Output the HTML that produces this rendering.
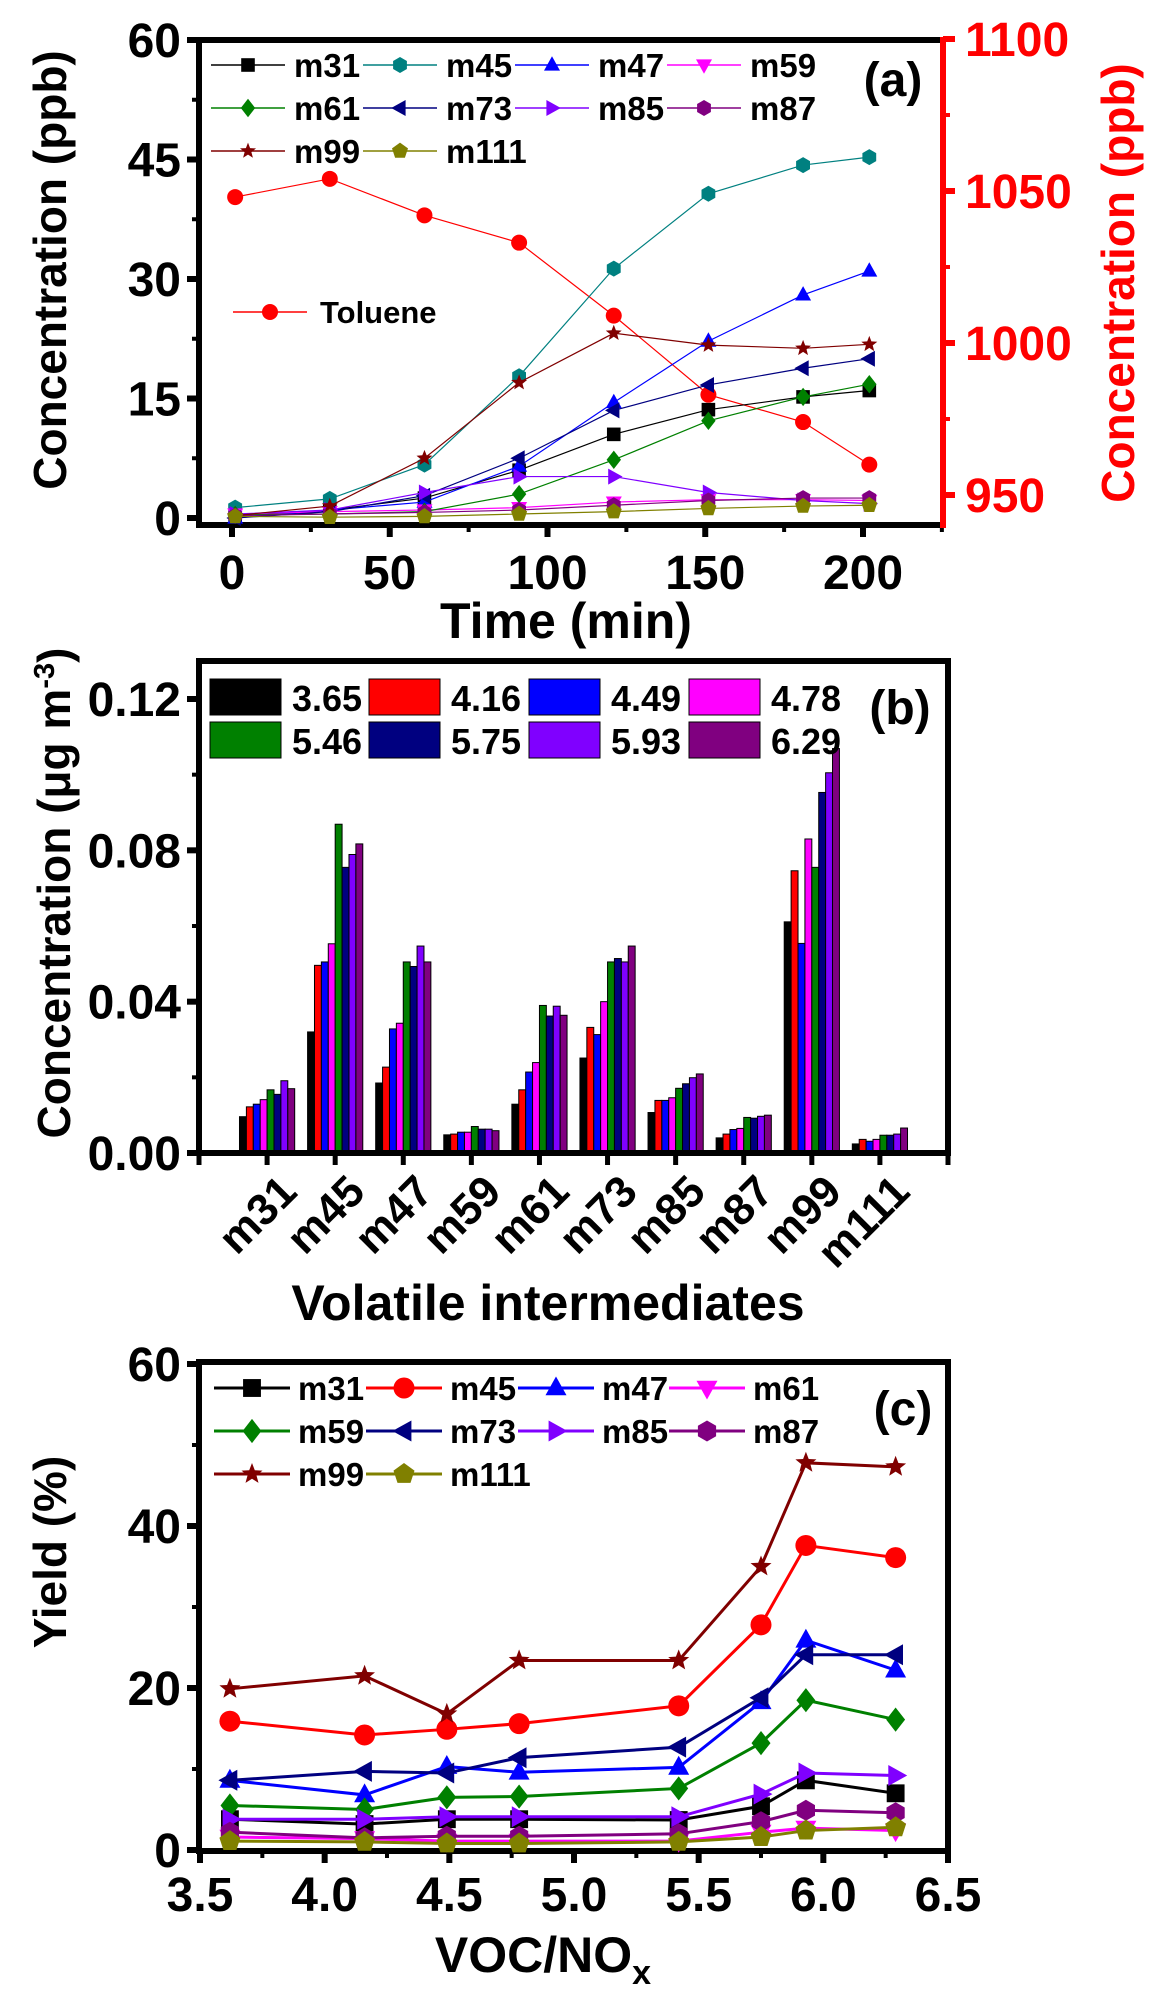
<!DOCTYPE html>
<html><head><meta charset="utf-8">
<style>
html,body{margin:0;padding:0;background:#fff;}
svg{display:block;}
text{font-family:"Liberation Sans",Arial,sans-serif;font-weight:bold;}
</style></head>
<body>
<svg id="fig" width="1155" height="2003" viewBox="0 0 1155 2003" xmlns="http://www.w3.org/2000/svg">
<rect width="1155" height="2003" fill="#fff"/>
</svg>
<script>
// ---------- Panel (a) data ----------
const timeA = [1, 31, 61, 91, 121, 151, 181, 202];
const m31A = [0.2, 1, 2.5, 6, 10.5, 13.6, 15.2, 16];
const m45A = [1.3, 2.4, 6.7, 17.8, 31.3, 40.7, 44.3, 45.3];
const m47A = [0, 1, 2, 6.5, 14.5, 22.2, 28, 31];
const m59A = [0.5, 0.8, 1, 1.3, 2, 2.3, 2.3, 2.2];
const m61A = [0.4, 0.5, 0.8, 3, 7.3, 12.2, 15.2, 16.8];
const m73A = [0, 0.8, 2.8, 7.5, 13.5, 16.7, 18.8, 20];
const m85A = [0.5, 1, 3.2, 5.2, 5.2, 3.2, 2.2, 1.8];
const m87A = [0.3, 0.5, 0.7, 1, 1.6, 2.2, 2.5, 2.5];
const m99A = [0.3, 1.5, 7.5, 17, 23.2, 21.7, 21.3, 21.8];
const m111A = [0.2, 0.1, 0.2, 0.5, 0.8, 1.2, 1.5, 1.6];
const tolueneA = [1048, 1054, 1042, 1033, 1009, 983, 974, 960];
const ticksAy = [0, 15, 30, 45, 60];
const ticksAx = [0, 50, 100, 150, 200];
const ticksAr = [950, 1000, 1050, 1100];

// ---------- Panel (b) data ----------
const catsB = ["m31","m45","m47","m59","m61","m73","m85","m87","m99","m111"];
const ratiosB = ["3.65","4.16","4.49","4.78","5.46","5.75","5.93","6.29"];
const b_m31 = [0.0096,0.0122,0.0129,0.0141,0.0167,0.0155,0.0191,0.0170];
const b_m45 = [0.032,0.0496,0.0505,0.0553,0.0869,0.0755,0.0789,0.0817];
const b_m47 = [0.0185,0.0227,0.0328,0.0343,0.0505,0.0493,0.0547,0.0505];
const b_m59 = [0.0048,0.005,0.0055,0.0055,0.007,0.0063,0.0063,0.0059];
const b_m61 = [0.0129,0.0167,0.0214,0.0239,0.039,0.0362,0.0388,0.0364];
const b_m73 = [0.0251,0.0332,0.0313,0.04,0.0505,0.0514,0.0505,0.0547];
const b_m85 = [0.0107,0.0139,0.0139,0.0146,0.0171,0.0183,0.0199,0.0209];
const b_m87 = [0.004,0.005,0.0062,0.0065,0.0094,0.0092,0.0097,0.01];
const b_m99 = [0.0611,0.0746,0.0554,0.083,0.0755,0.0953,0.1005,0.1069];
const b_m111 = [0.0024,0.0036,0.0031,0.0036,0.0047,0.0047,0.005,0.0066];
const ticksBy = [0, 0.04, 0.08, 0.12];
const tickLabelsBy = ["0.00","0.04","0.08","0.12"];

// ---------- Panel (c) data ----------
const ratioC = [3.62, 4.16, 4.49, 4.78, 5.42, 5.75, 5.93, 6.29];
const c_m31 = [3.8,3.2,3.8,3.8,3.7,5.4,8.6,7.0];
const c_m45 = [15.9,14.2,14.9,15.6,17.8,27.8,37.6,36.1];
const c_m47 = [8.6,6.8,10.3,9.6,10.2,18.3,25.9,22.2];
const c_m61 = [1.6,1.4,1.1,1.1,1.1,2.2,2.7,2.4];
const c_m59 = [5.5,5.0,6.5,6.6,7.6,13.2,18.5,16.1];
const c_m73 = [8.6,9.7,9.5,11.4,12.7,18.8,24.1,24.1];
const c_m85 = [3.8,3.8,4.1,4.1,4.1,6.9,9.5,9.2];
const c_m87 = [2.2,1.5,1.7,1.7,2.0,3.5,4.9,4.6];
const c_m99 = [19.9,21.5,16.8,23.4,23.4,35.0,47.8,47.3];
const c_m111 = [1.1,1.0,0.8,0.8,1.0,1.6,2.4,2.8];
const ticksCy = [0, 20, 40, 60];
const ticksCx = [3.5, 4.0, 4.5, 5.0, 5.5, 6.0, 6.5];

const NS = "http://www.w3.org/2000/svg";
const svg = document.getElementById("fig");
const TK = 48;
function mk(tag, attrs, parent) {
  const e = document.createElementNS(NS, tag);
  for (const k in attrs) e.setAttribute(k, attrs[k]);
  (parent || svg).appendChild(e);
  return e;
}
function txt(str, x, y, size, fill, anchor, parent) {
  const t = mk("text", {x: x, y: y, "font-size": size, fill: fill || "#000", "text-anchor": anchor || "middle"}, parent);
  t.textContent = str;
  return t;
}
function marker(shape, cx, cy, s, color, parent) {
  const r = s / 2;
  let e;
  const pts = (arr) => arr.map(p => (cx + p[0]).toFixed(1) + "," + (cy + p[1]).toFixed(1)).join(" ");
  if (shape === "square") e = mk("rect", {x: cx - r * 0.85, y: cy - r * 0.85, width: r * 1.7, height: r * 1.7, fill: color}, parent);
  else if (shape === "circle") e = mk("circle", {cx: cx, cy: cy, r: r, fill: color}, parent);
  else if (shape === "up") e = mk("polygon", {points: pts([[0, -r * 1.1], [r, r * 0.7], [-r, r * 0.7]]), fill: color}, parent);
  else if (shape === "down") e = mk("polygon", {points: pts([[0, r * 1.1], [r, -r * 0.7], [-r, -r * 0.7]]), fill: color}, parent);
  else if (shape === "diamond") e = mk("polygon", {points: pts([[0, -r * 1.15], [r * 0.9, 0], [0, r * 1.15], [-r * 0.9, 0]]), fill: color}, parent);
  else if (shape === "left") e = mk("polygon", {points: pts([[-r * 1.1, 0], [r * 0.7, -r], [r * 0.7, r]]), fill: color}, parent);
  else if (shape === "right") e = mk("polygon", {points: pts([[r * 1.1, 0], [-r * 0.7, -r], [-r * 0.7, r]]), fill: color}, parent);
  else if (shape === "hex") {
    const a = []; for (let i = 0; i < 6; i++) { const t = Math.PI / 6 + i * Math.PI / 3; a.push([r * Math.cos(t), r * Math.sin(t)]); }
    e = mk("polygon", {points: pts(a), fill: color}, parent);
  } else if (shape === "star") {
    const a = []; for (let i = 0; i < 10; i++) { const t = -Math.PI / 2 + i * Math.PI / 5; const rr = i % 2 ? r * 0.45 : r * 1.05; a.push([rr * Math.cos(t), rr * Math.sin(t)]); }
    e = mk("polygon", {points: pts(a), fill: color}, parent);
  } else if (shape === "pent") {
    const a = []; for (let i = 0; i < 5; i++) { const t = -Math.PI / 2 + i * 2 * Math.PI / 5; a.push([r * 1.05 * Math.cos(t), r * 1.05 * Math.sin(t)]); }
    e = mk("polygon", {points: pts(a), fill: color}, parent);
  }
  return e;
}
function frame(L, R, T, B, parent) {
  mk("rect", {x: L, y: T, width: R - L, height: B - T, fill: "none", stroke: "#000", "stroke-width": 6}, parent);
}

// ================= Panel (a) =================
const gA = mk("g", {});


const aL = 199, aR = 943, aT = 40, aB = 525;
const xA = v => 232 + (v - 0) * (863 - 232) / 200;
const yA = v => 518 + (v - 0) * (40 - 518) / 60;
const yAr = v => 495 + (v - 950) * (343 - 495) / 50;
frame(aL, aR, aT, aB, gA);
ticksAy.forEach(v => {
  mk("line", {x1: aL - 12, x2: aL, y1: yA(v), y2: yA(v), stroke: "#000", "stroke-width": 6}, gA);
  const t = txt(String(v), aL - 18, yA(v) + 17, TK, "#000", "end", gA);
  
  
});
for (let v = 7.5; v < 60; v += 15) mk("line", {x1: aL - 7, x2: aL, y1: yA(v), y2: yA(v), stroke: "#000", "stroke-width": 4}, gA);
ticksAx.forEach(v => {
  mk("line", {x1: xA(v), x2: xA(v), y1: aB, y2: aB + 12, stroke: "#000", "stroke-width": 6}, gA);
  const t = txt(String(v), xA(v), 589, TK, "#000", "middle", gA);
  
  
});
for (let v = 25; v < 230; v += 50) if (xA(v) < aR) mk("line", {x1: xA(v), x2: xA(v), y1: aB, y2: aB + 7, stroke: "#000", "stroke-width": 4}, gA);
mk("line", {x1: aR, x2: aR, y1: aT - 3, y2: aB + 3, stroke: "#ff0000", "stroke-width": 6}, gA);
ticksAr.forEach(v => {
  mk("line", {x1: aR, x2: aR + 12, y1: yAr(v), y2: yAr(v), stroke: "#ff0000", "stroke-width": 6}, gA);
  const t = txt(String(v), aR + 22, yAr(v) + 17, TK, "#ff0000", "start", gA);
  
  
});
for (let v = 975; v < 1100; v += 50) mk("line", {x1: aR, x2: aR + 7, y1: yAr(v), y2: yAr(v), stroke: "#ff0000", "stroke-width": 4}, gA);
let t;
t = txt("Concentration (ppb)", 0, 0, 46, "#000", "middle", gA);
t.setAttribute("transform", "translate(66,270) rotate(-90)");


t = txt("Concentration (ppb)", 0, 0, 46, "#ff0000", "middle", gA);
t.setAttribute("transform", "translate(1134,283) rotate(-90)");


t = txt("Time (min)", 566, 638, 50, "#000", "middle", gA);


t = txt("(a)", 893, 96, 48, "#000", "middle", gA);



const seriesA = [
  {n: "m31", d: m31A, c: "#000000", s: "square"},
  {n: "m45", d: m45A, c: "#008080", s: "hex"},
  {n: "m47", d: m47A, c: "#0000ff", s: "up"},
  {n: "m59", d: m59A, c: "#ff00ff", s: "down"},
  {n: "m61", d: m61A, c: "#008000", s: "diamond"},
  {n: "m73", d: m73A, c: "#000080", s: "left"},
  {n: "m85", d: m85A, c: "#8000ff", s: "right"},
  {n: "m87", d: m87A, c: "#800080", s: "hex"},
  {n: "m99", d: m99A, c: "#800000", s: "star"},
  {n: "m111", d: m111A, c: "#808000", s: "pent"}
];
{
  const g = mk("g", {}, gA);
  
  
  mk("polyline", {points: timeA.map((x, i) => xA(x) + "," + yAr(tolueneA[i])).join(" "), fill: "none", stroke: "#ff0000", "stroke-width": 1.2}, g);
  tolueneA.forEach((v, i) => {
    const m = marker("circle", xA(timeA[i]), yAr(v), 16, "#ff0000", g);
    
    
  });
}
seriesA.forEach(s => {
  const g = mk("g", {}, gA);
  
  
  mk("polyline", {points: timeA.map((x, i) => xA(x) + "," + yA(s.d[i])).join(" "), fill: "none", stroke: s.c, "stroke-width": 1.2}, g);
  s.d.forEach((v, i) => {
    const m = marker(s.s, xA(timeA[i]), yA(v), 16, s.c, g);
    
    
  });
});
{
  const g = mk("g", {}, gA);
  
  
  const colM = [248, 400, 552, 704], rowY = [65, 108, 151];
  seriesA.forEach((s, i) => {
    const cx = colM[i % 4], cy = rowY[Math.floor(i / 4)];
    const e = mk("g", {}, g);
    
    
    mk("line", {x1: cx - 37, x2: cx + 37, y1: cy, y2: cy, stroke: s.c, "stroke-width": 1.5}, e);
    marker(s.s, cx, cy, 16, s.c, e);
    txt(s.n, cx + 46, cy + 12, 33, "#000", "start", e);
  });
  const e = mk("g", {}, g);
  
  
  mk("line", {x1: 233, x2: 307, y1: 312, y2: 312, stroke: "#ff0000", "stroke-width": 1.5}, e);
  marker("circle", 270, 312, 16, "#ff0000", e);
  txt("Toluene", 320, 323, 31, "#000", "start", e);
}

// ================= Panel (b) =================
const gB = mk("g", {});


const bL = 199, bR = 948, bT = 661, bB = 1153;
const xB = i => bL + (i + 1) * (bR - bL) / 11;
const yB = v => 1153 + v * (699 - 1153) / 0.12;
const colorsB = ["#000000","#ff0000","#0000ff","#ff00ff","#008000","#000080","#8000ff","#800080"];
const dataB = [b_m31,b_m45,b_m47,b_m59,b_m61,b_m73,b_m85,b_m87,b_m99,b_m111];
const bw = 6.9;
dataB.forEach((arr, ci) => {
  const g = mk("g", {}, gB);
  
  
  arr.forEach((v, k) => {
    const x = xB(ci) - 4 * bw + k * bw;
    const r = mk("rect", {x: x, y: yB(v), width: bw, height: yB(0) - yB(v), fill: colorsB[k], stroke: "#000", "stroke-width": 1}, g);
    
    
  });
});
frame(bL, bR, bT, bB, gB);
ticksBy.forEach((v, i) => {
  mk("line", {x1: bL - 12, x2: bL, y1: yB(v), y2: yB(v), stroke: "#000", "stroke-width": 6}, gB);
  const t = txt(tickLabelsBy[i], bL - 18, yB(v) + 17, TK, "#000", "end", gB);
  
  
});
for (let v = 0.02; v < 0.13; v += 0.04) mk("line", {x1: bL - 7, x2: bL, y1: yB(v), y2: yB(v), stroke: "#000", "stroke-width": 4}, gB);
for (let i = -1; i <= 10; i++) mk("line", {x1: xB(i), x2: xB(i), y1: bB, y2: bB + 12, stroke: "#000", "stroke-width": 5}, gB);
catsB.forEach((c, i) => {
  const t = txt(c, 0, 0, 44, "#000", "end", gB);
  t.setAttribute("transform", "translate(" + (xB(i) + 32) + ",1194) rotate(-45)");
  
  
});
t = txt("Volatile intermediates", 548, 1320, 50, "#000", "middle", gB);


t = mk("text", {"font-size": 46, fill: "#000", "text-anchor": "middle", transform: "translate(70,893) rotate(-90)"}, gB);
t.innerHTML = 'Concentration (μg m<tspan dy="-16" font-size="29">-3</tspan><tspan dy="16">)</tspan>';


t = txt("(b)", 900, 724, 48, "#000", "middle", gB);


{
  const g = mk("g", {}, gB);
  
  
  const bx = [210, 369, 529, 689], by = [679, 722];
  ratiosB.forEach((r, k) => {
    const x = bx[k % 4], y = by[Math.floor(k / 4)];
    const e = mk("g", {}, g);
    
    
    mk("rect", {x: x, y: y, width: 71, height: 36, fill: colorsB[k], stroke: "#000", "stroke-width": 1}, e);
    txt(r, x + 82, y + 32, 36, "#000", "start", e);
  });
}

// ================= Panel (c) =================
const gC = mk("g", {});


const cL = 199, cR = 948, cT = 1362, cB = 1851;
const xC = v => 200 + (v - 3.5) * (948 - 200) / 3;
const yC = v => 1850 + v * (1364 - 1850) / 60;
frame(cL, cR, cT, cB, gC);
ticksCy.forEach(v => {
  mk("line", {x1: cL - 12, x2: cL, y1: yC(v), y2: yC(v), stroke: "#000", "stroke-width": 6}, gC);
  const t = txt(String(v), cL - 18, yC(v) + 17, TK, "#000", "end", gC);
  
  
});
for (let v = 10; v < 60; v += 20) mk("line", {x1: cL - 7, x2: cL, y1: yC(v), y2: yC(v), stroke: "#000", "stroke-width": 4}, gC);
ticksCx.forEach(v => {
  mk("line", {x1: xC(v), x2: xC(v), y1: cB, y2: cB + 12, stroke: "#000", "stroke-width": 6}, gC);
  const t = txt(v.toFixed(1), xC(v), 1911, TK, "#000", "middle", gC);
  
  
});
for (let v = 3.75; v < 6.5; v += 0.5) mk("line", {x1: xC(v), x2: xC(v), y1: cB, y2: cB + 7, stroke: "#000", "stroke-width": 4}, gC);
t = mk("text", {x: 543, y: 1972, "font-size": 50, fill: "#000", "text-anchor": "middle"}, gC);
t.innerHTML = 'VOC/NO<tspan dy="12" font-size="34">x</tspan>';


t = txt("Yield (%)", 0, 0, 46, "#000", "middle", gC);
t.setAttribute("transform", "translate(66,1552) rotate(-90)");


t = txt("(c)", 903, 1425, 48, "#000", "middle", gC);


const seriesC = [
  {n: "m31", d: c_m31, c: "#000000", s: "square"},
  {n: "m45", d: c_m45, c: "#ff0000", s: "circle"},
  {n: "m47", d: c_m47, c: "#0000ff", s: "up"},
  {n: "m61", d: c_m61, c: "#ff00ff", s: "down"},
  {n: "m59", d: c_m59, c: "#008000", s: "diamond"},
  {n: "m73", d: c_m73, c: "#000080", s: "left"},
  {n: "m85", d: c_m85, c: "#8000ff", s: "right"},
  {n: "m87", d: c_m87, c: "#800080", s: "hex"},
  {n: "m99", d: c_m99, c: "#800000", s: "star"},
  {n: "m111", d: c_m111, c: "#808000", s: "pent"}
];
seriesC.forEach(s => {
  const g = mk("g", {}, gC);
  
  
  mk("polyline", {points: ratioC.map((x, i) => xC(x) + "," + yC(s.d[i])).join(" "), fill: "none", stroke: s.c, "stroke-width": 3}, g);
  s.d.forEach((v, i) => {
    const m = marker(s.s, xC(ratioC[i]), yC(v), 21, s.c, g);
    
    
  });
});
{
  const g = mk("g", {}, gC);
  
  
  const colM = [252, 404, 556, 707], rowY = [1388, 1431, 1474];
  seriesC.forEach((s, i) => {
    const cx = colM[i % 4], cy = rowY[Math.floor(i / 4)];
    const e = mk("g", {}, g);
    
    
    mk("line", {x1: cx - 38, x2: cx + 38, y1: cy, y2: cy, stroke: s.c, "stroke-width": 3}, e);
    marker(s.s, cx, cy, 21, s.c, e);
    txt(s.n, cx + 46, cy + 12, 33, "#000", "start", e);
  });
}
</script>
</body></html>
